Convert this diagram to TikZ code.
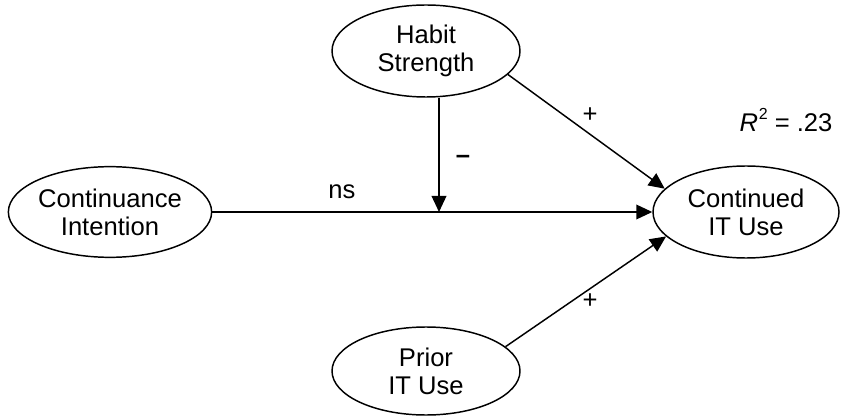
\documentclass[tikz,border=0pt]{standalone}
\usepackage{fontspec}
\setmainfont{Liberation Sans}
\usetikzlibrary{shapes.geometric,arrows.meta}
\tikzset{
  construct/.style={ellipse, draw, line width=1.1pt, inner sep=0pt, align=center,
    font=\fontsize{19.2}{21}\selectfont},
  path/.style={line width=1.1pt, -{Triangle[length=12pt,width=11pt]}},
  lbl/.style={font=\fontsize{19.2}{21}\selectfont, inner sep=0pt}
}
\begin{document}
\begin{tikzpicture}[x=0.75pt,y=-0.75pt]
\useasboundingbox (0,0) rectangle (841,416);
\node[construct, minimum width=141pt, minimum height=69pt] (hs) at (426,51) {Habit\\Strength};
\node[construct, minimum width=150pt, minimum height=68pt] (ci) at (110,212) {Continuance\\Intention};
\node[construct, minimum width=139.5pt, minimum height=69pt] (cu) at (746,212) {Continued\\IT Use};
\node[construct, minimum width=141pt, minimum height=66pt] (pu) at (426,371) {Prior\\IT Use};
\coordinate (m) at (439,212);
\draw[path] (ci.east) -- (cu.west);
\draw[path] (hs.south -| m) -- (m);
\draw[path] (hs.-16) -- (cu.164);
\draw[path] (pu.17) -- (cu.197);
\node[lbl] (l1) at (590,115) {+};
\node[lbl] (l2) at (463,159) {\textbf{\textendash}};
\node[lbl] (l3) at (342,192) {ns};
\node[lbl] (l4) at (590,301) {+};
\node[lbl] (r2) at (786,120) {\textit{R}\kern0.5pt\raisebox{0.45em}{\fontsize{12}{12}\selectfont 2} = .23};
\end{tikzpicture}
\end{document}
